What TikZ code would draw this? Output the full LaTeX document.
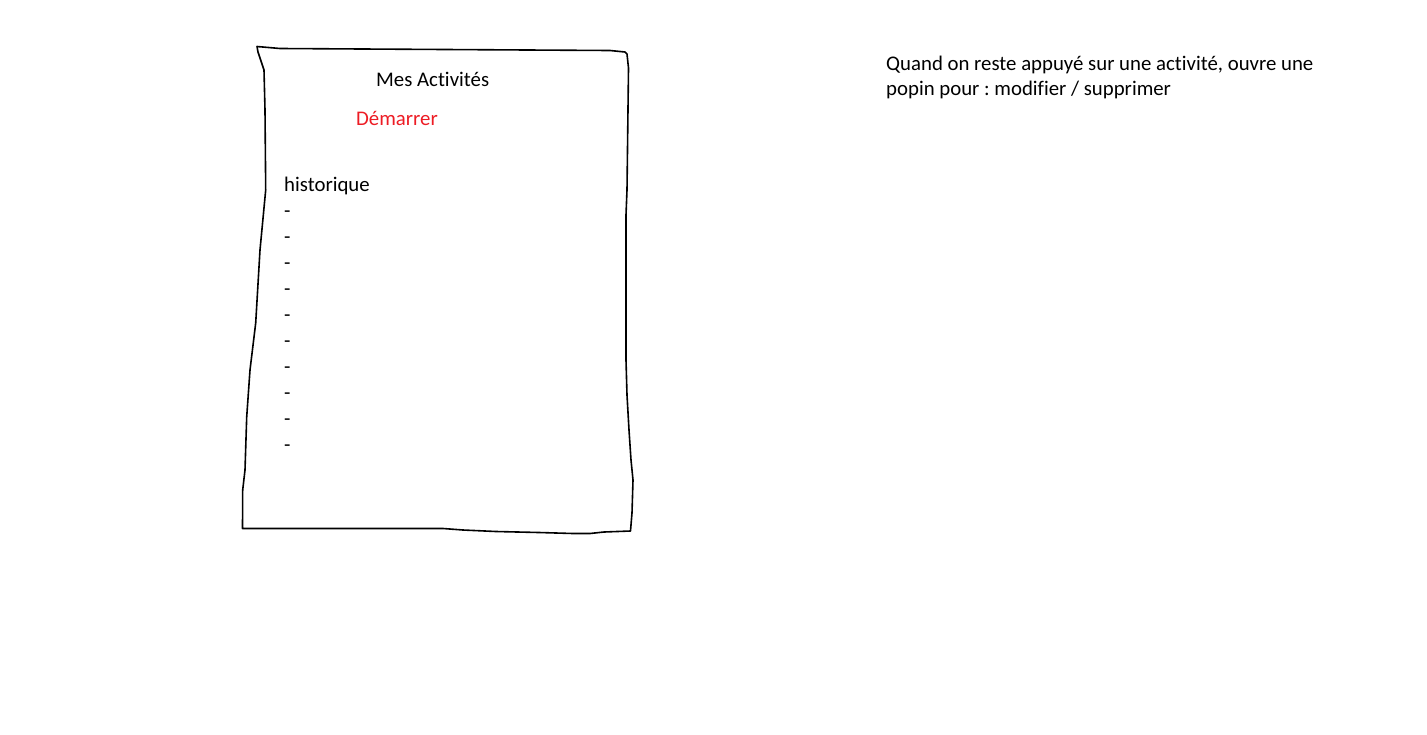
\documentclass[tikz,border=0pt]{standalone}
\usepackage{fontspec}
\setmainfont[Ligatures=NoCommon]{Carlito}
\usepackage{tikz}
\frenchspacing
\definecolor{paintred}{RGB}{237,28,36}
\tikzstyle{txt}=[anchor=base west, inner sep=0pt, font=\fontsize{20.8}{26}\selectfont]
\tikzstyle{sheet}=[line width=1.6pt, line join=round]

\begin{document}
\begin{tikzpicture}[x=1pt, y=-1pt]
                \useasboundingbox (0,0) rectangle (1427,734);
                % hand drawn screen
                \draw[sheet] (257,46.5) -- (280,48.5) -- (610,50.5) -- (625,52) -- (627,54) -- (628.5,68)
                    -- (627,190) -- (626,215) -- (626,360) -- (627,395) -- (629,430) -- (631,460)
                    -- (633,480) -- (632,513) -- (630.5,531) -- (604,532) -- (590,533.5) -- (573,533.5)
                    -- (539,532.5) -- (496,531.5) -- (463,530) -- (443,528.5) -- (242.5,528.5)
                    -- (242.7,490) -- (245,470) -- (246.7,417) -- (250,370) -- (255.7,323) -- (260,250)
                    -- (265.7,190) -- (265,110) -- (264,70) -- (258,52) -- cycle;
                \node[txt] (titre) at (376,86) {Mes Activités};
                \node[txt, text=paintred] (start) at (356,125.5) {Démarrer};
                \node[txt] (hist) at (284,191.5) {historique};
                \node[txt] (d1) at (284,217.5) {-};
                \node[txt] (d2) at (284,243.5) {-};
                \node[txt] (d3) at (284,269.5) {-};
                \node[txt] (d4) at (284,295.5) {-};
                \node[txt] (d5) at (284,321.5) {-};
                \node[txt] (d6) at (284,347.5) {-};
                \node[txt] (d7) at (284,373.5) {-};
                \node[txt] (d8) at (284,399.5) {-};
                \node[txt] (d9) at (284,425.5) {-};
                \node[txt] (d10) at (284,451.5) {-};
                % note
                \node[txt] (note1) at (886,70) {Quand on reste appuyé sur une activité, ouvre une};
                \node[txt] (note2) at (886,95.5) {popin pour : modifier / supprimer};
\end{tikzpicture}
\end{document}
